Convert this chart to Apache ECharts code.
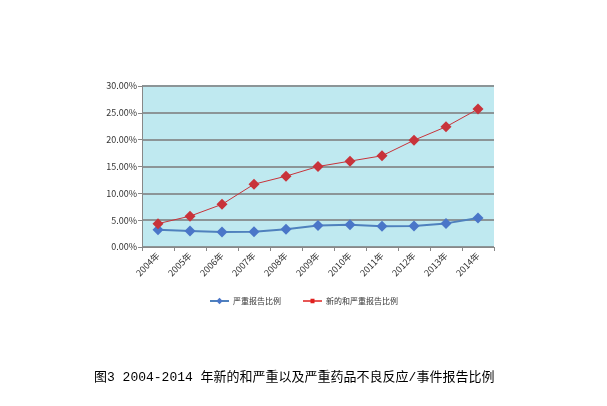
<!DOCTYPE html>
<html><head><meta charset="utf-8">
<script src="https://cdn.jsdelivr.net/npm/echarts@6/dist/echarts.min.js"></script>
<style>html,body{margin:0;padding:0;background:#fff;}#c{width:607px;height:406px;}</style>
</head><body><div id="c"></div>
<script>
const categories = ['2004年','2005年','2006年','2007年','2008年','2009年','2010年','2011年','2012年','2013年','2014年'];
const seriousRatio = [3.2, 3.0, 2.8, 2.85, 3.3, 4.0, 4.15, 3.85, 3.9, 4.4, 5.4];
const newSeriousRatio = [4.35, 5.75, 7.95, 11.7, 13.2, 15.0, 16.0, 17.0, 19.9, 22.4, 25.7];
const yTicks = [0, 5, 10, 15, 20, 25, 30];
const seriesNames = ['严重报告比例', '新的和严重报告比例'];
const titleText = '图3 2004-2014 年新的和严重以及严重药品不良反应/事件报告比例';

const chart = echarts.init(document.getElementById('c'), null, {renderer: 'canvas'});
const lab = {fontFamily: 'Noto Sans CJK SC, DejaVu Sans', fontSize: 9, color: '#333'};
chart.setOption({
  animation: false,
  backgroundColor: '#fff',
  title: {
    text: titleText, left: 89, top: 366,
    textStyle: {fontFamily: 'Liberation Mono, Noto Sans CJK SC', fontSize: 13, fontWeight: 'normal', color: '#000'}
  },
  legend: {
    left: 'center', top: 292, itemGap: 22, itemWidth: 19, itemHeight: 8,
    textStyle: {fontFamily: 'Noto Sans CJK SC, DejaVu Sans', fontSize: 8, color: '#333', padding: [0, 0, 0, -1]},
    data: [
      {name: seriesNames[0]},
      {name: seriesNames[1], itemStyle: {color: '#e0201e'}, lineStyle: {color: '#ff0000', width: 2},
       icon: 'path://M0,3.2H7.5V1.8H11.5V3.2H19V4.8H11.5V6.2H7.5V4.8H0Z'}
    ]
  },
  grid: {left: 142, right: 113, top: 86, bottom: 159, show: true, backgroundColor: '#bfe9f0', borderWidth: 0},
  xAxis: {
    type: 'category', data: categories, boundaryGap: true,
    axisLine: {lineStyle: {color: '#888', width: 1}},
    axisTick: {show: true, length: 4, lineStyle: {color: '#888'}},
    axisLabel: Object.assign({rotate: 45, margin: 7, interval: 0}, lab)
  },
  yAxis: {
    type: 'value', min: yTicks[0], max: yTicks[yTicks.length-1], interval: 5,
    axisLine: {show: true, lineStyle: {color: '#888'}},
    axisTick: {show: true, length: 4, lineStyle: {color: '#888'}},
    splitLine: {lineStyle: {color: '#8c9597', width: 2}},
    axisLabel: Object.assign({formatter: v => v.toFixed(2) + '%', margin: 5}, lab)
  },
  series: [
    {name: seriesNames[0], type: 'line', data: seriousRatio, symbol: 'diamond', symbolSize: 11,
     itemStyle: {color: '#4a76c8'}, lineStyle: {color: '#4f81bd', width: 2}},
    {name: seriesNames[1], type: 'line', data: newSeriousRatio, symbol: 'diamond', symbolSize: 11,
     itemStyle: {color: '#c8333a'}, lineStyle: {color: '#c8333a', width: 1}}
  ]
});
</script></body></html>
